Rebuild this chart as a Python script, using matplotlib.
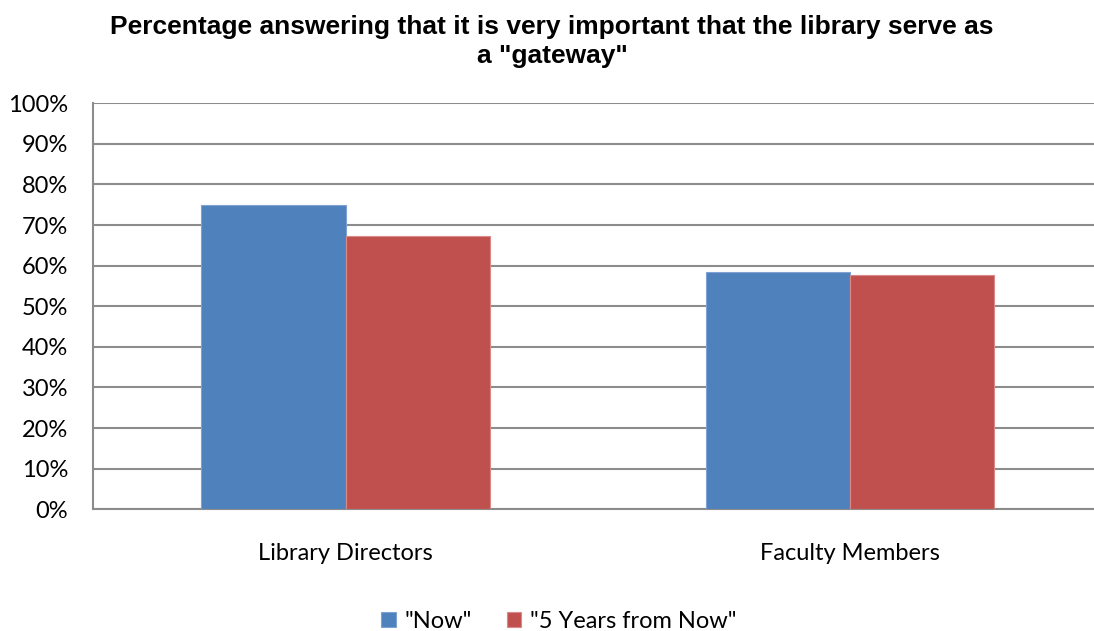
import numpy as np
import matplotlib.pyplot as plt
from matplotlib.ticker import PercentFormatter


groups = ['Library Directors', 'Faculty Members']
series = ['"Now"', '"5 Years from Now"']
now_vals = [75.0, 58.4]
later_vals = [67.3, 57.6]
title_lines = ['Percentage answering that it is very important that the library serve as',
               'a "gateway"']

blue = '#4F81BD'
red = '#C0504D'
grid_col = '#8C8C8C'
label_font = 'Lato'
label_size = 17

W, H = 1094, 631
fig = plt.figure(figsize=(W/100, H/100), dpi=100)
ax = fig.add_axes([0.0853, 0.1929, 0.9225, 0.6434])

x = np.arange(len(groups))
w = 0.2857
ax.bar(x - w/2, now_vals, w, color=blue, edgecolor='#7FA2D3', linewidth=0.8,
       label=series[0], zorder=3)
ax.bar(x + w/2, later_vals, w, color=red, edgecolor='#D98A88', linewidth=0.8,
       label=series[1], zorder=3)

ax.set_xlim(-0.5, 1.5)
ax.set_ylim(0, 100)
ax.set_yticks(np.arange(0, 101, 10))
ax.yaxis.set_major_formatter(PercentFormatter(decimals=0))
ax.set_xticks(x, groups)

ax.grid(axis='y', color=grid_col, linewidth=1.5, zorder=0)
for side in ['top', 'right']:
    ax.spines[side].set_visible(False)
for side in ['left', 'bottom']:
    ax.spines[side].set_color(grid_col)
    ax.spines[side].set_linewidth(1.5)

ax.tick_params(axis='y', length=0, pad=18, labelsize=label_size)
ax.tick_params(axis='x', length=0, pad=24, labelsize=label_size)
for lbl in ax.get_xticklabels() + ax.get_yticklabels():
    lbl.set_fontfamily(label_font)

# two-line bold title, each line placed on its own baseline
for txt, base_px in zip(title_lines, [34, 63]):
    fig.text(552/W, 1 - base_px/H, txt, ha='center', va='baseline',
             fontsize=19, fontweight='bold', family='Liberation Sans')

fig.legend(loc='center', bbox_to_anchor=(559/W, 1 - 621/H), ncol=2,
           frameon=False, handlelength=0.6, handleheight=0.6,
           handletextpad=0.4, columnspacing=1.45,
           prop={'family': label_font, 'size': label_size})

fig.savefig('out.png', dpi=100)
